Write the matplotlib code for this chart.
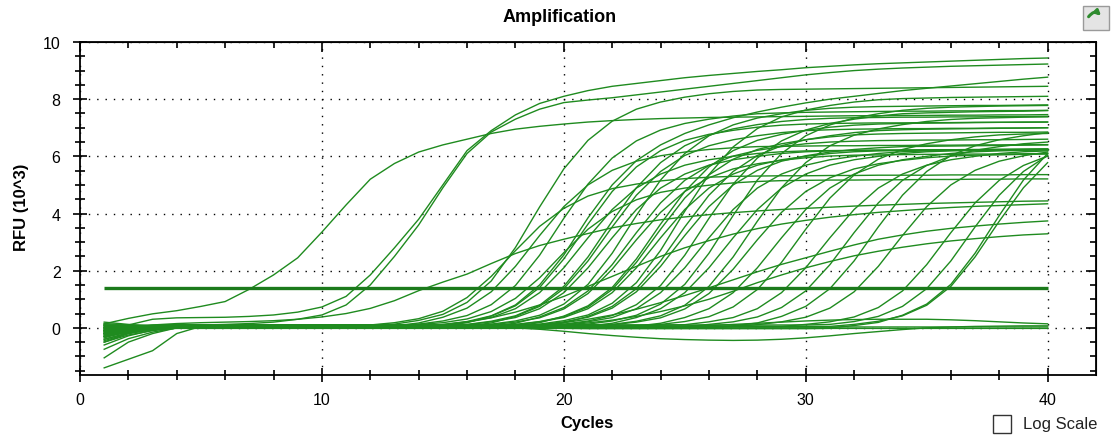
import numpy as np
import matplotlib
matplotlib.use('Agg')
import matplotlib.pyplot as plt
from matplotlib.patches import Rectangle, FancyArrowPatch

plt.rcParams['font.family'] = ['Liberation Sans', 'DejaVu Sans']

W, H = 1114, 439
CYCLES = list(range(1, 41))
THRESHOLD = 1.4
X_TICKS = [0, 10, 20, 30, 40]
Y_TICKS = [0, 2, 4, 6, 8, 10]

# RFU (10^3) per cycle, one list per well
WA = [0.14, 0.33, 0.49, 0.6, 0.75, 0.92, 1.35, 1.85, 2.45, 3.35,
      4.3, 5.2, 5.75, 6.15, 6.4, 6.6, 6.8, 6.95, 7.05, 7.13,
      7.2, 7.25, 7.29, 7.32, 7.34, 7.36, 7.37, 7.38, 7.39, 7.4,
      7.41, 7.42, 7.42, 7.43, 7.43, 7.44, 7.44, 7.45, 7.45, 7.46]
WB = [-0.05, 0.1, 0.3, 0.35, 0.36, 0.37, 0.4, 0.45, 0.55, 0.73,
      1.1, 1.85, 2.8, 3.8, 5.0, 6.2, 6.9, 7.45, 7.85, 8.1,
      8.3, 8.45, 8.55, 8.65, 8.75, 8.83, 8.9, 8.97, 9.03, 9.1,
      9.15, 9.2, 9.24, 9.27, 9.3, 9.33, 9.36, 9.39, 9.42, 9.44]
WC = [-0.2, -0.05, 0.05, 0.1, 0.1, 0.12, 0.15, 0.2, 0.3, 0.45,
      0.8, 1.5, 2.5, 3.6, 4.9, 6.1, 6.85, 7.3, 7.65, 7.88,
      7.97, 8.05, 8.15, 8.25, 8.35, 8.45, 8.55, 8.65, 8.75, 8.85,
      8.93, 9.0, 9.05, 9.09, 9.12, 9.15, 9.17, 9.19, 9.21, 9.23]
WD = [-0.1, 0.0, 0.05, 0.05, 0.05, 0.05, 0.05, 0.05, 0.05, 0.05,
      0.05, 0.05, 0.05, 0.05, 0.12, 0.22, 0.42, 0.8, 1.5, 2.55,
      3.85, 5.0, 5.85, 6.4, 6.8, 7.1, 7.35, 7.55, 7.72, 7.87,
      8.0, 8.1, 8.2, 8.3, 8.38, 8.46, 8.54, 8.62, 8.7, 8.77]

W01 = [-0.1, -0.03, 0.02, 0.05, 0.05, 0.05, 0.05, 0.05, 0.05, 0.05,
       0.05, 0.10, 0.18, 0.32, 0.58, 1.06, 1.80, 2.70, 3.55, 4.18,
       4.61, 4.87, 5.03, 5.14, 5.22, 5.27, 5.30, 5.31, 5.32, 5.32,
       5.33, 5.33, 5.34, 5.34, 5.34, 5.35, 5.35, 5.35, 5.36, 5.36]
W02 = [0.0, 0.05, 0.08, 0.1, 0.1, 0.1, 0.1, 0.1, 0.1, 0.1,
       0.1, 0.1, 0.13, 0.26, 0.47, 0.89, 1.64, 2.81, 4.23, 5.56,
       6.56, 7.23, 7.65, 7.90, 8.07, 8.19, 8.27, 8.32, 8.34, 8.35,
       8.36, 8.37, 8.38, 8.39, 8.40, 8.41, 8.42, 8.43, 8.44, 8.45]
W03 = [-0.3, -0.15, -0.06, 0.0, 0.0, 0.0, 0.0, 0.0, 0.0, 0.0,
       0.0, 0.0, 0.07, 0.17, 0.37, 0.69, 1.26, 2.15, 3.23, 4.24,
       5.00, 5.51, 5.83, 6.02, 6.15, 6.24, 6.30, 6.34, 6.35, 6.36,
       6.37, 6.37, 6.38, 6.38, 6.39, 6.39, 6.40, 6.40, 6.41, 6.41]
W04 = [0.1, 0.08, 0.06, 0.05, 0.05, 0.05, 0.05, 0.05, 0.05, 0.05,
       0.05, 0.05, 0.05, 0.13, 0.24, 0.43, 0.81, 1.48, 2.54, 3.83,
       5.03, 5.94, 6.54, 6.92, 7.15, 7.30, 7.41, 7.49, 7.52, 7.54,
       7.55, 7.56, 7.57, 7.58, 7.58, 7.59, 7.59, 7.60, 7.60, 7.61]
W05 = [-0.2, -0.05, 0.04, 0.1, 0.1, 0.1, 0.1, 0.1, 0.1, 0.1,
       0.1, 0.1, 0.1, 0.12, 0.18, 0.31, 0.57, 1.03, 1.75, 2.63,
       3.45, 4.07, 4.48, 4.74, 4.89, 4.99, 5.07, 5.12, 5.15, 5.16,
       5.17, 5.17, 5.18, 5.18, 5.19, 5.19, 5.20, 5.20, 5.21, 5.21]
W06 = [-0.05, 0.0, 0.03, 0.05, 0.05, 0.05, 0.05, 0.05, 0.05, 0.05,
       0.05, 0.05, 0.05, 0.05, 0.11, 0.21, 0.36, 0.67, 1.23, 2.10,
       3.15, 4.14, 4.89, 5.38, 5.69, 5.88, 6.00, 6.10, 6.16, 6.19,
       6.20, 6.21, 6.22, 6.22, 6.23, 6.23, 6.24, 6.24, 6.25, 6.25]
W07 = [-0.75, -0.38, -0.15, 0.0, 0.0, 0.0, 0.0, 0.0, 0.0, 0.0,
       0.0, 0.0, 0.0, 0.0, 0.07, 0.18, 0.41, 0.77, 1.41, 2.41,
       3.63, 4.77, 5.63, 6.20, 6.56, 6.77, 6.91, 7.02, 7.09, 7.13,
       7.15, 7.16, 7.17, 7.17, 7.18, 7.18, 7.19, 7.19, 7.20, 7.20]
W08 = [0.05, 0.08, 0.09, 0.1, 0.1, 0.1, 0.1, 0.1, 0.1, 0.1,
       0.1, 0.1, 0.1, 0.1, 0.1, 0.12, 0.23, 0.42, 0.79, 1.45,
       2.48, 3.73, 4.90, 5.78, 6.37, 6.74, 6.96, 7.11, 7.22, 7.29,
       7.33, 7.35, 7.36, 7.37, 7.37, 7.38, 7.38, 7.39, 7.39, 7.40]
W09 = [-0.4, -0.18, -0.04, 0.05, 0.05, 0.05, 0.05, 0.05, 0.05, 0.05,
       0.05, 0.05, 0.05, 0.05, 0.05, 0.11, 0.21, 0.36, 0.67, 1.23,
       2.10, 3.15, 4.14, 4.89, 5.38, 5.69, 5.88, 6.00, 6.10, 6.16,
       6.19, 6.20, 6.21, 6.22, 6.22, 6.23, 6.23, 6.24, 6.24, 6.25]
W10 = [-0.15, -0.08, -0.03, 0.0, 0.0, 0.0, 0.0, 0.0, 0.0, 0.0,
       0.0, 0.0, 0.0, 0.0, 0.0, 0.07, 0.17, 0.40, 0.75, 1.37,
       2.34, 3.53, 4.64, 5.47, 6.03, 6.37, 6.58, 6.72, 6.83, 6.90,
       6.93, 6.95, 6.96, 6.97, 6.97, 6.98, 6.98, 6.99, 6.99, 7.00]
W11 = [0.15, 0.1, 0.07, 0.05, 0.05, 0.05, 0.05, 0.05, 0.05, 0.05,
       0.05, 0.05, 0.05, 0.05, 0.05, 0.05, 0.13, 0.24, 0.44, 0.83,
       1.52, 2.61, 3.93, 5.17, 6.10, 6.72, 7.10, 7.34, 7.49, 7.61,
       7.68, 7.72, 7.74, 7.75, 7.76, 7.77, 7.78, 7.78, 7.79, 7.80]
W12 = [-0.25, -0.08, 0.03, 0.1, 0.1, 0.1, 0.1, 0.1, 0.1, 0.1,
       0.1, 0.1, 0.1, 0.1, 0.1, 0.1, 0.11, 0.20, 0.35, 0.66,
       1.20, 2.05, 3.08, 4.04, 4.77, 5.25, 5.56, 5.74, 5.86, 5.95,
       6.01, 6.04, 6.05, 6.06, 6.07, 6.07, 6.08, 6.08, 6.09, 6.10]
W13 = [-1.05, -0.5, -0.2, 0.0, 0.0, 0.0, 0.0, 0.0, 0.0, 0.0,
       0.0, 0.0, 0.0, 0.0, 0.0, 0.0, 0.07, 0.16, 0.38, 0.71,
       1.29, 2.21, 3.33, 4.37, 5.16, 5.68, 6.01, 6.21, 6.34, 6.44,
       6.50, 6.53, 6.55, 6.56, 6.57, 6.57, 6.58, 6.58, 6.59, 6.60]
W14 = [-0.1, -0.03, 0.02, 0.05, 0.05, 0.05, 0.05, 0.05, 0.05, 0.05,
       0.05, 0.05, 0.05, 0.05, 0.05, 0.05, 0.05, 0.12, 0.22, 0.39,
       0.73, 1.34, 2.29, 3.45, 4.54, 5.35, 5.90, 6.24, 6.44, 6.58,
       6.68, 6.75, 6.78, 6.80, 6.81, 6.82, 6.83, 6.84, 6.84, 6.85]
W15 = [0.0, 0.05, 0.08, 0.1, 0.1, 0.1, 0.1, 0.1, 0.1, 0.1,
       0.1, 0.1, 0.1, 0.1, 0.1, 0.1, 0.1, 0.11, 0.21, 0.36,
       0.67, 1.23, 2.10, 3.15, 4.14, 4.89, 5.38, 5.69, 5.88, 6.00,
       6.10, 6.16, 6.19, 6.20, 6.21, 6.22, 6.23, 6.24, 6.24, 6.25]
W16 = [-0.5, -0.25, -0.1, 0.0, 0.0, 0.0, 0.0, 0.0, 0.0, 0.0,
       0.0, 0.0, 0.0, 0.0, 0.0, 0.0, 0.0, 0.07, 0.18, 0.41,
       0.77, 1.41, 2.41, 3.63, 4.77, 5.63, 6.20, 6.56, 6.77, 6.91,
       7.02, 7.09, 7.13, 7.15, 7.16, 7.17, 7.18, 7.19, 7.19, 7.20]
W17 = [-0.2, -0.08, 0.0, 0.05, 0.05, 0.05, 0.05, 0.05, 0.05, 0.05,
       0.05, 0.05, 0.05, 0.05, 0.05, 0.05, 0.05, 0.05, 0.13, 0.25,
       0.45, 0.86, 1.58, 2.71, 4.08, 5.36, 6.33, 6.97, 7.38, 7.62,
       7.78, 7.90, 7.98, 8.02, 8.04, 8.06, 8.07, 8.08, 8.09, 8.10]
W18 = [-0.35, -0.13, 0.01, 0.1, 0.1, 0.1, 0.1, 0.1, 0.1, 0.1,
       0.1, 0.1, 0.1, 0.1, 0.1, 0.1, 0.1, 0.1, 0.11, 0.21,
       0.37, 0.69, 1.26, 2.15, 3.23, 4.24, 5.00, 5.51, 5.83, 6.02,
       6.15, 6.24, 6.30, 6.34, 6.35, 6.36, 6.37, 6.38, 6.39, 6.40]
W19 = [0.05, 0.03, 0.01, 0.0, 0.0, 0.0, 0.0, 0.0, 0.0, 0.0,
       0.0, 0.0, 0.0, 0.0, 0.0, 0.0, 0.0, 0.0, 0.07, 0.17,
       0.40, 0.75, 1.37, 2.34, 3.53, 4.64, 5.47, 6.03, 6.37, 6.58,
       6.72, 6.83, 6.90, 6.93, 6.95, 6.96, 6.97, 6.98, 6.99, 7.00]
W20 = [-0.6, -0.28, -0.08, 0.05, 0.05, 0.05, 0.05, 0.05, 0.05, 0.05,
       0.05, 0.05, 0.05, 0.05, 0.05, 0.05, 0.05, 0.05, 0.05, 0.11,
       0.21, 0.36, 0.67, 1.23, 2.10, 3.15, 4.14, 4.89, 5.38, 5.69,
       5.88, 6.00, 6.10, 6.16, 6.19, 6.21, 6.22, 6.23, 6.24, 6.25]
W21 = [-0.1, 0.0, 0.06, 0.1, 0.1, 0.1, 0.1, 0.1, 0.1, 0.1,
       0.1, 0.1, 0.1, 0.1, 0.1, 0.1, 0.1, 0.1, 0.1, 0.13,
       0.24, 0.43, 0.81, 1.48, 2.54, 3.83, 5.03, 5.94, 6.54, 6.92,
       7.15, 7.30, 7.41, 7.49, 7.52, 7.54, 7.56, 7.57, 7.58, 7.60]
W22 = [-0.3, -0.15, -0.06, 0.0, 0.0, 0.0, 0.0, 0.0, 0.0, 0.0,
       0.0, 0.0, 0.0, 0.0, 0.0, 0.0, 0.0, 0.0, 0.0, 0.0,
       0.06, 0.16, 0.36, 0.67, 1.23, 2.10, 3.15, 4.14, 4.89, 5.38,
       5.69, 5.88, 6.00, 6.10, 6.16, 6.19, 6.21, 6.22, 6.23, 6.24]
W23 = [-0.15, -0.05, 0.01, 0.05, 0.05, 0.05, 0.05, 0.05, 0.05, 0.05,
       0.05, 0.05, 0.05, 0.05, 0.05, 0.05, 0.05, 0.05, 0.05, 0.05,
       0.13, 0.24, 0.44, 0.83, 1.52, 2.61, 3.93, 5.17, 6.10, 6.72,
       7.10, 7.34, 7.49, 7.61, 7.68, 7.72, 7.74, 7.76, 7.77, 7.78]
W24 = [0.0, 0.05, 0.08, 0.1, 0.1, 0.1, 0.1, 0.1, 0.1, 0.1,
       0.1, 0.1, 0.1, 0.1, 0.1, 0.1, 0.1, 0.1, 0.1, 0.1,
       0.1, 0.12, 0.23, 0.42, 0.79, 1.45, 2.48, 3.73, 4.90, 5.78,
       6.37, 6.74, 6.96, 7.11, 7.22, 7.29, 7.33, 7.35, 7.37, 7.38]
W25 = [-0.45, -0.2, -0.05, 0.05, 0.05, 0.05, 0.05, 0.05, 0.05, 0.05,
       0.05, 0.05, 0.05, 0.05, 0.05, 0.05, 0.05, 0.05, 0.05, 0.05,
       0.05, 0.11, 0.20, 0.35, 0.66, 1.20, 2.05, 3.08, 4.04, 4.77,
       5.25, 5.56, 5.74, 5.86, 5.95, 6.01, 6.04, 6.05, 6.07, 6.08]
W26 = [-0.2, -0.1, -0.04, 0.0, 0.0, 0.0, 0.0, 0.0, 0.0, 0.0,
       0.0, 0.0, 0.0, 0.0, 0.0, 0.0, 0.0, 0.0, 0.0, 0.0,
       0.0, 0.0, 0.06, 0.16, 0.36, 0.67, 1.23, 2.10, 3.15, 4.14,
       4.89, 5.38, 5.69, 5.88, 6.00, 6.10, 6.16, 6.19, 6.21, 6.22]
W27 = [-1.4, -1.1, -0.8, -0.2, 0.05, 0.05, 0.05, 0.05, 0.05, 0.05,
       0.05, 0.05, 0.05, 0.05, 0.05, 0.05, 0.05, 0.05, 0.05, 0.05,
       0.05, 0.05, 0.05, 0.12, 0.22, 0.39, 0.73, 1.34, 2.29, 3.45,
       4.54, 5.35, 5.90, 6.24, 6.44, 6.58, 6.68, 6.75, 6.78, 6.80]
W28 = [-0.1, 0.0, 0.06, 0.1, 0.1, 0.1, 0.1, 0.1, 0.1, 0.1,
       0.1, 0.1, 0.1, 0.1, 0.1, 0.1, 0.1, 0.1, 0.1, 0.1,
       0.1, 0.1, 0.1, 0.1, 0.11, 0.21, 0.36, 0.67, 1.23, 2.10,
       3.15, 4.14, 4.89, 5.38, 5.69, 5.88, 6.00, 6.10, 6.16, 6.19]
W29 = [-0.3, -0.13, -0.02, 0.05, 0.05, 0.05, 0.05, 0.05, 0.05, 0.05,
       0.05, 0.05, 0.05, 0.05, 0.05, 0.05, 0.05, 0.05, 0.05, 0.05,
       0.05, 0.05, 0.05, 0.05, 0.05, 0.12, 0.21, 0.38, 0.71, 1.29,
       2.21, 3.33, 4.37, 5.16, 5.68, 6.01, 6.21, 6.34, 6.44, 6.50]
W30 = [0.08, 0.04, 0.02, 0.0, 0.0, 0.0, 0.0, 0.0, 0.0, 0.0,
       0.0, 0.0, 0.0, 0.0, 0.0, 0.0, 0.0, 0.0, 0.0, 0.0,
       0.0, 0.0, 0.0, 0.0, 0.0, 0.0, 0.07, 0.17, 0.40, 0.75,
       1.37, 2.34, 3.53, 4.64, 5.47, 6.03, 6.37, 6.58, 6.72, 6.83]
W31 = [-0.25, -0.1, -0.01, 0.05, 0.05, 0.05, 0.05, 0.05, 0.05, 0.05,
       0.05, 0.05, 0.05, 0.05, 0.05, 0.05, 0.05, 0.05, 0.05, 0.05,
       0.05, 0.05, 0.05, 0.05, 0.05, 0.05, 0.05, 0.11, 0.21, 0.37,
       0.69, 1.26, 2.15, 3.23, 4.24, 5.00, 5.51, 5.83, 6.02, 6.15]
W32 = [-0.05, 0.03, 0.07, 0.1, 0.1, 0.1, 0.1, 0.1, 0.1, 0.1,
       0.1, 0.1, 0.1, 0.1, 0.1, 0.1, 0.1, 0.1, 0.1, 0.1,
       0.1, 0.1, 0.1, 0.1, 0.1, 0.1, 0.1, 0.1, 0.1, 0.1,
       0.12, 0.22, 0.40, 0.75, 1.37, 2.34, 3.53, 4.64, 5.47, 6.03]
W33 = [-0.4, -0.18, -0.04, 0.05, 0.05, 0.05, 0.05, 0.05, 0.05, 0.05,
       0.05, 0.05, 0.05, 0.05, 0.05, 0.05, 0.05, 0.05, 0.05, 0.05,
       0.05, 0.05, 0.05, 0.05, 0.05, 0.05, 0.05, 0.05, 0.05, 0.05,
       0.05, 0.12, 0.23, 0.42, 0.79, 1.45, 2.48, 3.73, 4.90, 5.78]
W34 = [-0.15, -0.08, -0.03, 0.0, 0.0, 0.0, 0.0, 0.0, 0.0, 0.0,
       0.0, 0.0, 0.0, 0.0, 0.0, 0.0, 0.0, 0.0, 0.0, 0.0,
       0.0, 0.0, 0.0, 0.0, 0.0, 0.0, 0.0, 0.0, 0.0, 0.0,
       0.0, 0.08, 0.19, 0.44, 0.83, 1.52, 2.61, 3.93, 5.17, 6.10]
W35 = [0.1, 0.08, 0.06, 0.05, 0.05, 0.05, 0.05, 0.05, 0.05, 0.05,
       0.05, 0.05, 0.05, 0.05, 0.05, 0.05, 0.05, 0.05, 0.05, 0.05,
       0.05, 0.05, 0.05, 0.05, 0.05, 0.05, 0.05, 0.05, 0.05, 0.12,
       0.21, 0.38, 0.71, 1.29, 2.21, 3.33, 4.37, 5.16, 5.68, 6.01]

# slow risers
SH1 = [0.0, 0.05, 0.1, 0.15, 0.18, 0.2, 0.22, 0.25, 0.3, 0.38,
       0.5, 0.68, 0.95, 1.3, 1.6, 1.88, 2.25, 2.6, 2.88, 3.1,
       3.3, 3.5, 3.65, 3.78, 3.88, 3.96, 4.03, 4.09, 4.14, 4.18,
       4.22, 4.26, 4.29, 4.32, 4.35, 4.37, 4.39, 4.41, 4.43, 4.44]
SH2 = [-0.1, 0.0, 0.05, 0.05, 0.05, 0.05, 0.05, 0.05, 0.05, 0.05,
       0.05, 0.05, 0.05, 0.05, 0.1, 0.2, 0.35, 0.55, 0.8, 1.1,
       1.45, 1.8, 2.15, 2.5, 2.8, 3.05, 3.28, 3.47, 3.63, 3.76,
       3.87, 3.96, 4.04, 4.1, 4.16, 4.21, 4.25, 4.28, 4.31, 4.34]
SH3 = [-0.2, -0.05, 0.03, 0.05, 0.05, 0.05, 0.05, 0.05, 0.05, 0.05,
       0.05, 0.05, 0.05, 0.05, 0.05, 0.05, 0.05, 0.05, 0.1, 0.18,
       0.3, 0.45, 0.65, 0.88, 1.13, 1.4, 1.68, 1.96, 2.22, 2.45,
       2.68, 2.9, 3.1, 3.25, 3.38, 3.48, 3.56, 3.63, 3.69, 3.74]
SH4 = [0.1, 0.08, 0.06, 0.05, 0.05, 0.05, 0.05, 0.05, 0.05, 0.05,
       0.05, 0.05, 0.05, 0.05, 0.05, 0.05, 0.05, 0.05, 0.05, 0.1,
       0.17, 0.27, 0.4, 0.57, 0.77, 1.0, 1.28, 1.58, 1.85, 2.1,
       2.32, 2.52, 2.68, 2.82, 2.94, 3.04, 3.12, 3.19, 3.25, 3.29]

# no amplification
NEG1 = [-0.3, -0.1, 0.0, 0.05, 0.05, 0.05, 0.05, 0.05, 0.05, 0.05,
        0.05, 0.05, 0.05, 0.05, 0.05, 0.05, 0.03, 0.0, -0.05, -0.12,
        -0.2, -0.27, -0.33, -0.38, -0.41, -0.43, -0.44, -0.43, -0.4, -0.35,
        -0.28, -0.2, -0.13, -0.06, 0.0, 0.03, 0.05, 0.06, 0.07, 0.07]
NEG2 = [0.0, 0.03, 0.05, 0.05, 0.05, 0.05, 0.05, 0.05, 0.05, 0.05,
        0.05, 0.05, 0.05, 0.05, 0.05, 0.05, 0.05, 0.05, 0.05, 0.05,
        0.05, 0.05, 0.05, 0.05, 0.05, 0.08, 0.12, 0.16, 0.2, 0.24,
        0.27, 0.29, 0.3, 0.3, 0.3, 0.28, 0.25, 0.21, 0.17, 0.14]
NEG3 = [-0.5, -0.2, -0.05, -0.02, -0.02, -0.02, -0.02, -0.02, -0.02, -0.02,
        -0.02, -0.02, -0.02, -0.02, -0.02, -0.02, -0.02, -0.02, -0.02, -0.02,
        -0.03, -0.03, -0.03, -0.03, -0.03, -0.03, -0.03, -0.03, -0.03, -0.03,
        -0.02, -0.02, -0.02, -0.02, -0.02, -0.02, -0.02, -0.02, -0.02, -0.02]
NEG4 = [0.2, 0.12, 0.06, 0.03, 0.03, 0.03, 0.03, 0.03, 0.03, 0.03,
        0.03, 0.03, 0.03, 0.03, 0.03, 0.03, 0.03, 0.03, 0.03, 0.03,
        0.03, 0.03, 0.03, 0.03, 0.03, 0.03, 0.03, 0.03, 0.03, 0.03,
        0.03, 0.03, 0.03, 0.03, 0.03, 0.03, 0.03, 0.03, 0.03, 0.03]

WELLS = [WA, WB, WC, WD, W01, W02, W03, W04, W05, W06, W07, W08, W09, W10,
         W11, W12, W13, W14, W15, W16, W17, W18, W19, W20, W21, W22, W23,
         W24, W25, W26, W27, W28, W29, W30, W31, W32, W33, W34, W35,
         SH1, SH2, SH3, SH4, NEG1, NEG2, NEG3, NEG4]


def fx(px):
    return px / W


def fy(py):
    return 1 - py / H


fig = plt.figure(figsize=(W / 100, H / 100), dpi=100)
ax = fig.add_axes([fx(80), fy(376), fx(1096) - fx(80), fy(43) - fy(376)])

for i, w in enumerate(WELLS):
    if len(w) != len(CYCLES):
        raise ValueError('well %d has %d points' % (i, len(w)))
    ax.plot(CYCLES, w, color='#1f8b1f', lw=1.0, solid_joinstyle='round', zorder=2)

ax.hlines(THRESHOLD, CYCLES[0], CYCLES[-1], color='#1b7a1b', lw=2.4, zorder=3)

ax.set_xlim(0, 42)
ax.set_ylim(-1.65, 10)
ax.set_xticks(X_TICKS)
ax.set_xticks(np.arange(0, 42, 2), minor=True)
ax.set_yticks(Y_TICKS)
ax.set_yticks(np.arange(-1.5, 10.01, 0.5), minor=True)
ax.tick_params(which='both', direction='inout', width=1.2, colors='black', labelsize=11.5)
ax.tick_params(which='major', length=10)
ax.tick_params(which='minor', length=7)
ax.tick_params(axis='y', pad=9)
ax.tick_params(axis='x', pad=7)
ax.grid(which='major', color='black', linestyle=(0, (1, 5)), linewidth=1.0)
for s in ax.spines.values():
    s.set_linewidth(1.3)

top = ax.secondary_xaxis('top')
top.set_xticks(X_TICKS, labels=[])
top.set_xticks(np.arange(0, 42, 2), minor=True)
top.tick_params(which='both', direction='in', width=1.2)
top.tick_params(which='major', length=7)
top.tick_params(which='minor', length=4)
right = ax.secondary_yaxis('right')
right.set_yticks(Y_TICKS, labels=[])
right.set_yticks(np.arange(-1.5, 10.01, 0.5), minor=True)
right.tick_params(which='both', direction='in', width=1.2)
right.tick_params(which='major', length=7)
right.tick_params(which='minor', length=4)

fig.text(fx(560), fy(18), 'Amplification', ha='center', va='center', fontsize=13, weight='bold')
fig.text(fx(587), fy(424), 'Cycles', ha='center', va='center', fontsize=12, weight='bold')
fig.text(fx(22), fy(207), 'RFU (10^3)', ha='center', va='center', rotation=90,
         fontsize=12, weight='bold')

# "Log Scale" checkbox
fig.patches.append(Rectangle((fx(993), fy(434)), fx(18), 18 / H, transform=fig.transFigure,
                             facecolor='white', edgecolor='#333333', lw=1.0))
fig.text(fx(1023), fy(425), 'Log Scale', ha='left', va='center', fontsize=12, color='#222222')

# toolbar icon in the corner
fig.patches.append(Rectangle((fx(1083), fy(31)), fx(26), 24 / H, transform=fig.transFigure,
                             facecolor='#e4e4e4', edgecolor='#9a9a9a', lw=1.0))
fig.patches.append(FancyArrowPatch((fx(1087), fy(20)), (fx(1103), fy(19)), transform=fig.transFigure,
                                   connectionstyle='arc3,rad=-0.7', arrowstyle='-|>',
                                   mutation_scale=7, color='#2e8b2e', lw=2.2))

fig.savefig('out.png', dpi=100)
